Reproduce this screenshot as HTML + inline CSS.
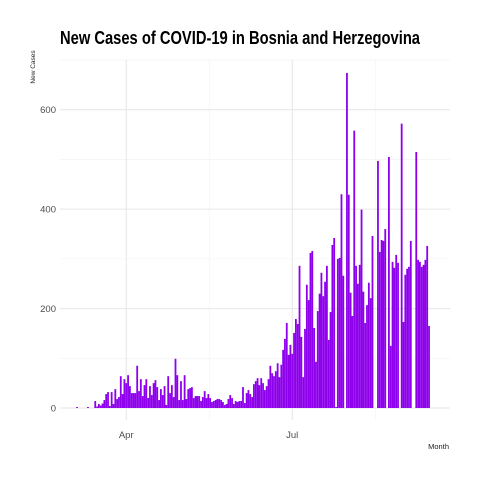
<!DOCTYPE html>
<html><head><meta charset="utf-8"><style>
body{margin:0;background:#fff;}
svg{display:block;font-family:"Liberation Sans",sans-serif;}
</style></head><body>
<svg id="chart" width="480" height="480">
<text x="60" y="44" font-size="18.5" font-weight="bold" fill="#000" textLength="360" lengthAdjust="spacingAndGlyphs">New Cases of COVID-19 in Bosnia and Herzegovina</text>
<text transform="translate(35,67) rotate(-90)" text-anchor="middle" font-size="6.5" fill="#222">New Cases</text>
<text x="449" y="449" text-anchor="end" font-size="7.5" fill="#222">Month</text>
<g id="grid"></g><g id="bars"></g><g id="ticks"></g>
</svg>
<script>
const startDay = 0; // day index 0 = Mar 5
const values = [2,0,0,0,0,0,2,0,0,0,
14,3,8,5,9,16,28,32,4,32,8,38,18,22,64,28,58,50,66,44,30,30,30,85,34,58,24,46,58,20,44,26,50,56,42,16,38,26,44,6,64,30,46,22,99,
66,16,54,
16,66,18,38,40,42,20,24,24,24,14,22,34,20,28,20,12,14,16,18,18,16,12,6,8,18,26,20,8,14,12,14,14,42,10,30,36,28,22,48,54,60,46,60,50,36,44,58,85,70,64,74,90,62,87,117,139,171,107,127,109,
151,179,169,286,143,62,159,248,217,312,316,161,93,195,230,272,225,254,286,137,193,328,342,2,300,302,430,266,0,674,429,232,185,558,286,250,288,399,234,171,207,252,221,346,0,0,497,314,338,336,360,0,505,125,294,282,308,292,0,572,173,268,280,284,336,0,0,515,298,294,284,288,298,326,165];
const yTicks = [0,200,400,600];
const yMinor = [100,300,500,700];
const xTickLabels = ["Apr","Jul"];
const xTickDays = [27,118];
const xMinorDays = [72.5,163.5];

const NS="http://www.w3.org/2000/svg";
const L=60,R=450,T=60,B=408;
const x = d => 77 + d*1.824;
const y = v => B - v*0.4971;
function mk(tag,attrs,parent){const e=document.createElementNS(NS,tag);for(const k in attrs)e.setAttribute(k,attrs[k]);parent.appendChild(e);return e;}
const grid=document.getElementById('grid'),bars=document.getElementById('bars'),ticks=document.getElementById('ticks');
yMinor.forEach(v=>{const l=mk('line',{x1:L,x2:R,y1:y(v),y2:y(v),stroke:'#f2f2f2','stroke-width':0.6},grid);

});
xMinorDays.forEach(d=>{const l=mk('line',{x1:x(d),x2:x(d),y1:T,y2:B+12,stroke:'#f2f2f2','stroke-width':0.6},grid);

});
yTicks.forEach(v=>{const l=mk('line',{x1:L,x2:R,y1:y(v),y2:y(v),stroke:'#e6e6e6','stroke-width':1},grid);


const t=mk('text',{x:56,y:y(v)+3.5,'text-anchor':'end','font-size':9.5,fill:'#4d4d4d'},ticks);t.textContent=v;

});
xTickDays.forEach((d,i)=>{const l=mk('line',{x1:x(d),x2:x(d),y1:T,y2:B+12,stroke:'#e6e6e6','stroke-width':1},grid);


const t=mk('text',{x:x(d),y:438,'text-anchor':'middle','font-size':9.5,fill:'#4d4d4d'},ticks);t.textContent=xTickLabels[i];

});
values.forEach((v,i)=>{const d=startDay+i;const h=Math.max(B-y(v),v>0?0.6:0);
const r=mk('rect',{x:x(d)-0.9,y:B-h,width:1.8,height:h,fill:'#8e00ec'},bars);

});
</script>
</body></html>
